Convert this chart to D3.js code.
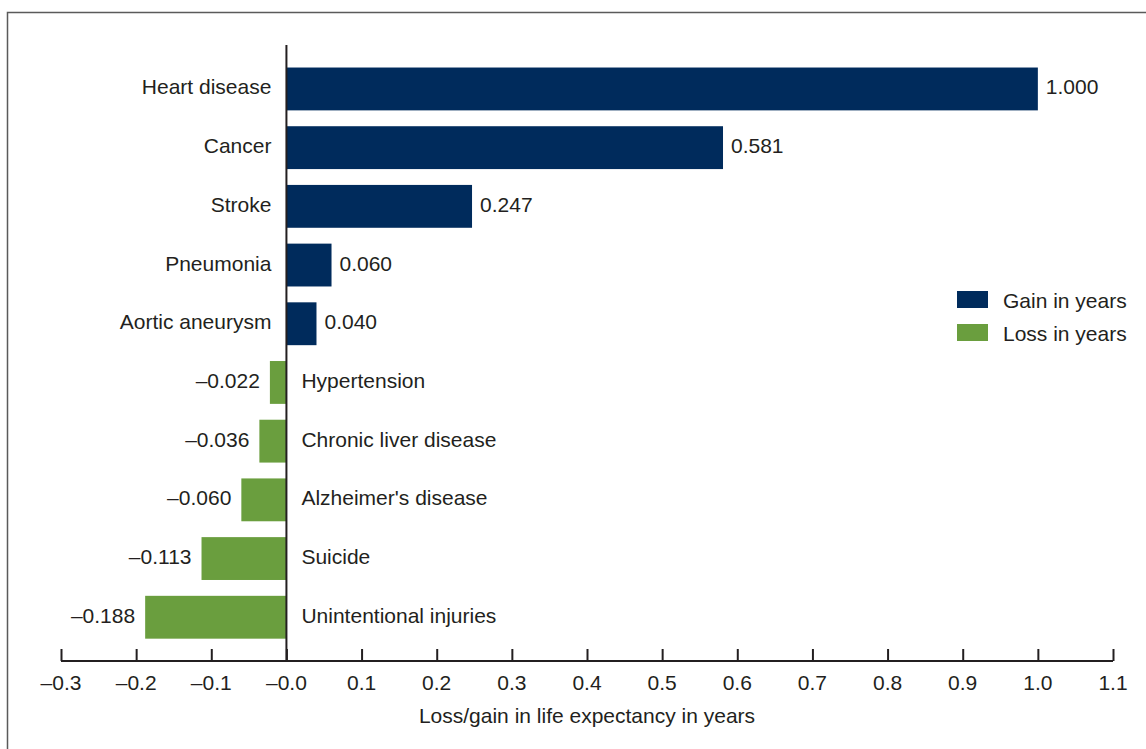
<!DOCTYPE html>
<html><head><meta charset="utf-8">
<script src="https://cdn.jsdelivr.net/npm/d3@7"></script>
<style>body{margin:0;background:#fff}svg{display:block}text{font-family:"Liberation Sans",Arial,sans-serif;fill:#231f20}</style>
</head><body><svg id="c" width="1146" height="749"></svg>
<script>
const categories = ["Heart disease","Cancer","Stroke","Pneumonia","Aortic aneurysm","Hypertension","Chronic liver disease","Alzheimer's disease","Suicide","Unintentional injuries"];
const values = [1.000,0.581,0.247,0.060,0.040,-0.022,-0.036,-0.060,-0.113,-0.188];
const valueLabels = ["1.000","0.581","0.247","0.060","0.040","\u20130.022","\u20130.036","\u20130.060","\u20130.113","\u20130.188"];
const tickValues = [-0.3,-0.2,-0.1,0,0.1,0.2,0.3,0.4,0.5,0.6,0.7,0.8,0.9,1.0,1.1];
const tickLabels = ["\u20130.3","\u20130.2","\u20130.1","\u20130.0","0.1","0.2","0.3","0.4","0.5","0.6","0.7","0.8","0.9","1.0","1.1"];
const legendLabels = ["Gain in years","Loss in years"];
const axisTitle = "Loss/gain in life expectancy in years";

const gainColor = "#002b5c", lossColor = "#6a9e3e", ink = "#231f20";
const svg = d3.select("#c");
const x = d3.scaleLinear().domain([-0.3,1.1]).range([61,1113]);
const y = d3.scaleBand().domain(categories).range([59.6,646.6]).paddingInner(0.27).paddingOuter(0.135);
const FS = 21;

// frame
svg.append("path").attr("d","M7.5,760V12.5H1160").attr("fill","none").attr("stroke","#5a5a5a").attr("stroke-width",1.5);

// bars
categories.forEach((c,i)=>{
  const v = values[i];
  svg.append("rect").attr("x",x(Math.min(0,v))).attr("y",y(c)).attr("width",Math.abs(x(v)-x(0))).attr("height",y.bandwidth())
    .attr("fill", v>=0?gainColor:lossColor);
  const cy = y(c)+y.bandwidth()/2+5.5;
  if(v>=0){
    svg.append("text").attr("x",x(0)-15).attr("y",cy).attr("text-anchor","end").attr("font-size",FS).text(c);
    svg.append("text").attr("x",x(v)+8).attr("y",cy).attr("text-anchor","start").attr("font-size",FS).text(valueLabels[i]);
  } else {
    svg.append("text").attr("x",x(0)+15).attr("y",cy).attr("text-anchor","start").attr("font-size",FS).text(c);
    svg.append("text").attr("x",x(v)-10).attr("y",cy).attr("text-anchor","end").attr("font-size",FS).text(valueLabels[i]);
  }
});

// zero line
svg.append("line").attr("x1",x(0)).attr("x2",x(0)).attr("y1",45).attr("y2",661).attr("stroke",ink).attr("stroke-width",2);

// axis
const ax = svg.append("g").attr("transform","translate(0,661)")
  .call(d3.axisTop(x).tickValues(tickValues).tickSize(12).tickFormat(()=>""));
ax.select(".domain").attr("stroke",ink).attr("stroke-width",2.2).attr("d","M"+x(-0.3)+",0H"+x(1.1));
ax.selectAll(".tick line").attr("stroke",ink).attr("stroke-width",2);
ax.selectAll(".tick text").remove();
tickValues.forEach((t,i)=>{
  svg.append("text").attr("x",x(t)).attr("y",689.5).attr("text-anchor","middle").attr("font-size",FS).text(tickLabels[i]);
});
svg.append("text").attr("x",(x(-0.3)+x(1.1))/2).attr("y",723).attr("text-anchor","middle").attr("font-size",FS).text(axisTitle);

// legend
[gainColor,lossColor].forEach((col,i)=>{
  const ly = 291 + i*33;
  svg.append("rect").attr("x",957).attr("y",ly).attr("width",31).attr("height",17).attr("fill",col);
  svg.append("text").attr("x",1003).attr("y",ly+16.5).attr("font-size",FS).text(legendLabels[i]);
});
</script></body></html>
